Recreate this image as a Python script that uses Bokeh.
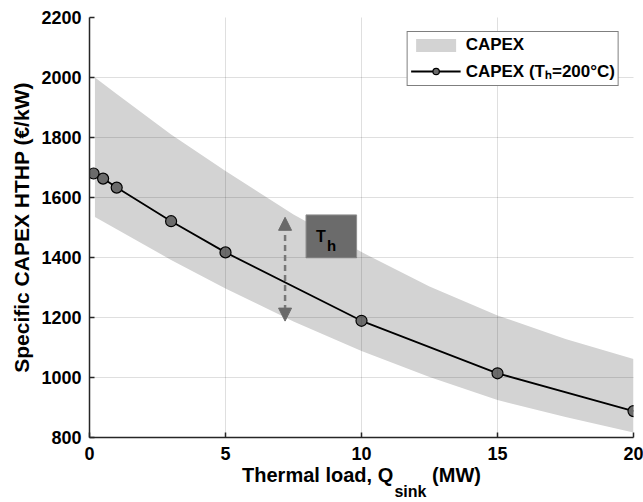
from bokeh.plotting import figure
from bokeh.models import (Range1d, Legend, LegendItem, Label, Arrow, NormalHead,
                          FixedTicker, LinearAxis)
from bokeh.embed import file_html
from bokeh.resources import INLINE

# ---------------- data ----------------
load_mw = [0.15, 0.5, 1, 3, 5, 10, 15, 20]
capex_200 = [1680, 1663, 1633, 1521, 1417, 1189, 1014, 888]

band_x = [0.2, 1, 3, 5, 7.5, 10, 12.5, 15, 17.5, 20]
band_upper = [2000, 1945, 1810, 1688, 1543, 1418, 1303, 1207, 1128, 1062]
band_lower = [1535, 1494, 1392, 1297, 1187, 1088, 1002, 925, 868, 817]

x_ticks = [0, 5, 10, 15, 20]
y_ticks = [800, 1000, 1200, 1400, 1600, 1800, 2000, 2200]

FONT = "Liberation Sans"
NB = "\u00a0"

p = figure(width=643, height=502, output_backend="svg", toolbar_location=None,
           x_range=Range1d(0, 20), y_range=Range1d(800, 2200),
           min_border_left=89, min_border_right=10, min_border_top=17,
           min_border_bottom=65)
p.outline_line_color = None
p.background_fill_color = "white"

band = p.varea(x=band_x, y1=band_lower, y2=band_upper,
               fill_color="#d3d3d3", fill_alpha=1.0)

# T_h box
p.quad(left=[7.96], right=[9.82], bottom=[1399], top=[1542],
       fill_color="#6b6b6b", line_color="#8f8f8f", line_width=1)
p.add_layout(Label(x=8.33, y=1470, text="T", text_font=FONT, text_font_style="bold",
                   text_font_size="16px", text_color="black", text_baseline="alphabetic"))
p.add_layout(Label(x=8.73, y=1440, text="h", text_font=FONT, text_font_style="bold",
                   text_font_size="15px", text_color="black", text_baseline="alphabetic"))

head_kw = dict(size=13, fill_color="#6a6a6a", line_color="#6a6a6a")
p.add_layout(Arrow(x_start=7.19, y_start=1188, x_end=7.19, y_end=1534,
                   start=NormalHead(**head_kw), end=NormalHead(**head_kw),
                   line_color="#777777", line_width=2.5, line_dash="6 4"))

ln = p.line(load_mw, capex_200, line_color="black", line_width=1.8)
sc = p.scatter(load_mw, capex_200, size=11, fill_color="#6b6b6b",
               line_color="black", line_width=1.2)

for ax in (p.xaxis[0], p.yaxis[0]):
    ax.axis_line_color = "#262626"
    ax.axis_line_width = 1.5
    ax.major_tick_line_color = "#262626"
    ax.major_tick_line_width = 1.5
    ax.major_tick_in = 5
    ax.major_tick_out = 0
    ax.minor_tick_line_color = None
    ax.major_label_text_font = FONT
    ax.major_label_text_font_style = "bold"
    ax.major_label_text_font_size = "18px"
    ax.major_label_text_color = "black"

p.xaxis.ticker = FixedTicker(ticks=x_ticks)
p.yaxis.ticker = FixedTicker(ticks=y_ticks)
p.xaxis.major_label_standoff = 9
p.yaxis.major_label_standoff = 8

p.yaxis.axis_label = "Specific CAPEX HTHP (€/kW)"
p.yaxis.axis_label_text_font = FONT
p.yaxis.axis_label_text_font_style = "bold"
p.yaxis.axis_label_text_font_size = "21px"
p.yaxis.axis_label_text_color = "black"
p.yaxis.axis_label_standoff = 5

# x-axis label: main part on the axis, subscript on an extra bare axis below
xa = p.xaxis[0]
xa.axis_label = "Thermal load, Q" + NB * 7 + "(MW)"
xa.axis_label_text_font = FONT
xa.axis_label_text_font_style = "bold"
xa.axis_label_text_font_size = "20px"
xa.axis_label_text_color = "black"
xa.axis_label_standoff = 1
xa.axis_label_text_line_height = 1.0

sub_axis = LinearAxis(ticker=FixedTicker(ticks=[]),
                      axis_line_color=None, major_tick_line_color=None,
                      minor_tick_line_color=None, major_label_text_font_size="0px",
                      axis_label=NB * 22 + "sink", axis_label_text_font=FONT,
                      axis_label_text_font_style="bold", axis_label_text_font_size="16px",
                      axis_label_text_color="black", axis_label_standoff=-6,
                      axis_label_text_line_height=1.0, major_label_standoff=0)
p.add_layout(sub_axis, "below")

for g in (p.xgrid[0], p.ygrid[0]):
    g.grid_line_color = "#262626"
    g.grid_line_alpha = 0.15
    g.grid_line_width = 1
    g.level = "guide"
p.xgrid.ticker = FixedTicker(ticks=x_ticks)
p.ygrid.ticker = FixedTicker(ticks=y_ticks)

legend = Legend(items=[LegendItem(label="CAPEX", renderers=[band]),
                       LegendItem(label="CAPEX (T\u2095=200°C)", renderers=[ln, sc])],
                location="top_right", margin=14,
                border_line_color="black", border_line_width=1,
                background_fill_color="white", background_fill_alpha=1,
                label_text_font=FONT, label_text_font_style="bold",
                label_text_font_size="17px", label_text_color="black",
                glyph_width=50, glyph_height=16, label_height=18,
                label_standoff=5, spacing=4, padding=3)
p.add_layout(legend)

open("out.html", "w").write(file_html(p, INLINE))
